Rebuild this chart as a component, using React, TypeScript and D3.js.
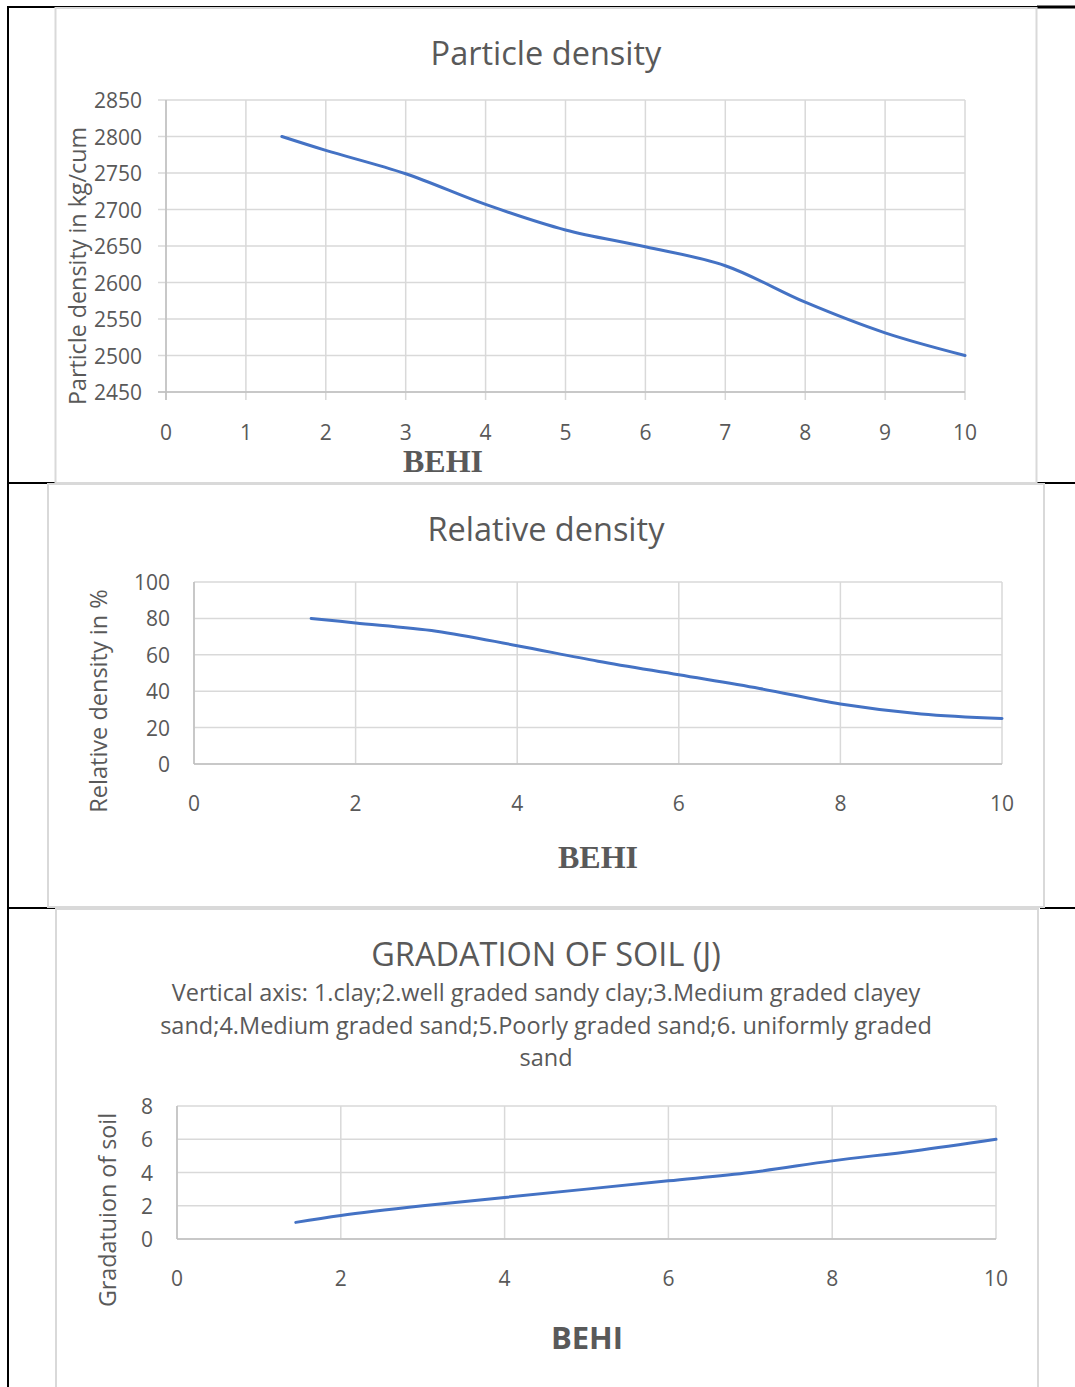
import React from "react";
import * as d3 from "d3";

const behi = [1.45, 2, 3, 4, 5, 6, 7, 8, 9, 10];
const particleDensity = [2800, 2781, 2749, 2707, 2672, 2649, 2623, 2573, 2531, 2500];
const relativeDensity = [80, 77.5, 73, 65, 56.5, 49, 41.5, 33, 27.5, 25];
const gradation = [1, 1.42, 2, 2.5, 3, 3.5, 4, 4.7, 5.3, 6];

const xTicks1 = [0, 1, 2, 3, 4, 5, 6, 7, 8, 9, 10];
const yTicks1 = [2450, 2500, 2550, 2600, 2650, 2700, 2750, 2800, 2850];
const xTicks2 = [0, 2, 4, 6, 8, 10];
const yTicks2 = [0, 20, 40, 60, 80, 100];
const xTicks3 = [0, 2, 4, 6, 8, 10];
const yTicks3 = [0, 2, 4, 6, 8];

const subtitleLines = [
  "Vertical axis: 1.clay;2.well graded sandy clay;3.Medium graded clayey",
  "sand;4.Medium graded sand;5.Poorly graded sand;6. uniformly graded",
  "sand",
];

const FONT = "'Open Sans', Lato, sans-serif";
const SERIF = "'Liberation Serif', 'Times New Roman', serif";
const TXT = "#595959";
const GRID = "#d9d9d9";
const LINE = "#4472C4";

type ChartProps = {
  x0: number; x1: number; y0: number; y1: number;
  xDomain: [number, number]; yDomain: [number, number];
  xTicks: number[]; yTicks: number[]; ys: number[];
  yLabelX: number; xLabelY: number; ext: number;
};

function Chart(p: ChartProps) {
  const x = d3.scaleLinear().domain(p.xDomain).range([p.x0, p.x1]);
  const y = d3.scaleLinear().domain(p.yDomain).range([p.y1, p.y0]);
  const line = d3
    .line<number>()
    .x((_, i) => x(behi[i]))
    .y((d) => y(d))
    .curve(d3.curveCatmullRom.alpha(0.5));
  return (
    <g>
      {p.yTicks.map((t) => (
        <line key={"h" + t} x1={p.x0 - p.ext} x2={p.x1} y1={y(t)} y2={y(t)} stroke={GRID} strokeWidth={1.5} />
      ))}
      {p.xTicks.map((t) => (
        <line key={"v" + t} x1={x(t)} x2={x(t)} y1={p.y0} y2={p.y1 + p.ext} stroke={GRID} strokeWidth={1.5} />
      ))}
      <line x1={p.x0} x2={p.x0} y1={p.y0} y2={p.y1 + p.ext} stroke="#bfbfbf" strokeWidth={1.5} />
      <line x1={p.x0 - p.ext} x2={p.x1} y1={p.y1} y2={p.y1} stroke="#bfbfbf" strokeWidth={1.5} />
      <path d={line(p.ys) || ""} fill="none" stroke={LINE} strokeWidth={3} strokeLinecap="round" />
      {p.yTicks.map((t) => (
        <text key={"yl" + t} x={p.yLabelX} y={y(t)} textAnchor="end" dominantBaseline="central" fontSize={21} fill={TXT} fontFamily={FONT}>
          {t}
        </text>
      ))}
      {p.xTicks.map((t) => (
        <text key={"xl" + t} x={x(t)} y={p.xLabelY} textAnchor="middle" dominantBaseline="central" fontSize={21} fill={TXT} fontFamily={FONT}>
          {t}
        </text>
      ))}
    </g>
  );
}

export default function App() {
  return (
    <svg width={1075} height={1387} style={{ position: "absolute", left: 0, top: 0, background: "#fff" }}>
      <rect x={0} y={0} width={1075} height={1387} fill="#fff" />
      {/* black page lines */}
      <line x1={8} x2={1075} y1={7} y2={7} stroke="#000" strokeWidth={2} />
      <line x1={8} x2={8} y1={6} y2={1387} stroke="#000" strokeWidth={2} />
      <line x1={8} x2={55} y1={483} y2={483} stroke="#000" strokeWidth={2} />
      <line x1={1037} x2={1075} y1={483} y2={483} stroke="#000" strokeWidth={2} />
      <line x1={8} x2={55} y1={908} y2={908} stroke="#000" strokeWidth={2} />
      <line x1={1040} x2={1075} y1={908} y2={908} stroke="#000" strokeWidth={2} />
      <line x1={1037} x2={1075} y1={7} y2={7} stroke="#000" strokeWidth={3} />

      {/* chart frames */}
      <rect x={55.5} y={8} width={981} height={475} fill="#fff" stroke={GRID} strokeWidth={2} />
      <rect x={48} y={484} width={996} height={423} fill="#fff" stroke={GRID} strokeWidth={2} />
      <rect x={56} y={909} width={982} height={490} fill="#fff" stroke={GRID} strokeWidth={2} />

      {/* Chart 1 */}
      <text x={546} y={52} textAnchor="middle" dominantBaseline="central" fontSize={32.5} fill={TXT} fontFamily={FONT}>
        Particle density
      </text>
      <Chart x0={166} x1={965} y0={100} y1={392} xDomain={[0, 10]} yDomain={[2450, 2850]}
        xTicks={xTicks1} yTicks={yTicks1} ys={particleDensity} yLabelX={142} xLabelY={432} ext={8} />
      <text transform="translate(77,266) rotate(-90)" textAnchor="middle" dominantBaseline="central" fontSize={23.3} fill={TXT} fontFamily={FONT}>
        Particle density in kg/cum
      </text>
      <text x={443} y={461} textAnchor="middle" dominantBaseline="central" fontSize={32} fontWeight="bold" fill={TXT} fontFamily={SERIF}>
        BEHI
      </text>

      {/* Chart 2 */}
      <text x={546} y={528} textAnchor="middle" dominantBaseline="central" fontSize={32.5} fill={TXT} fontFamily={FONT}>
        Relative density
      </text>
      <Chart x0={194} x1={1002} y0={582} y1={764} xDomain={[0, 10]} yDomain={[0, 100]}
        xTicks={xTicks2} yTicks={yTicks2} ys={relativeDensity} yLabelX={170} xLabelY={803} ext={0} />
      <text transform="translate(98,701) rotate(-90)" textAnchor="middle" dominantBaseline="central" fontSize={23.5} fill={TXT} fontFamily={FONT}>
        Relative density in %
      </text>
      <text x={598} y={857} textAnchor="middle" dominantBaseline="central" fontSize={32} fontWeight="bold" fill={TXT} fontFamily={SERIF}>
        BEHI
      </text>

      {/* Chart 3 */}
      <text x={546} y={953} textAnchor="middle" dominantBaseline="central" fontSize={32.5} fill={TXT} fontFamily={FONT}>
        GRADATION OF SOIL (J)
      </text>
      {subtitleLines.map((s, i) => (
        <text key={i} x={546} y={992 + i * 32.5} textAnchor="middle" dominantBaseline="central" fontSize={23.5} fill={TXT} fontFamily={FONT}>
          {s}
        </text>
      ))}
      <Chart x0={177} x1={996} y0={1106} y1={1239} xDomain={[0, 10]} yDomain={[0, 8]}
        xTicks={xTicks3} yTicks={yTicks3} ys={gradation} yLabelX={153} xLabelY={1278} ext={0} />
      <text transform="translate(107,1210) rotate(-90)" textAnchor="middle" dominantBaseline="central" fontSize={23.3} fill={TXT} fontFamily={FONT}>
        Gradatuion of soil
      </text>
      <text x={587} y={1337} textAnchor="middle" dominantBaseline="central" fontSize={31} fontWeight="bold" fill={TXT} fontFamily={FONT}>
        BEHI
      </text>
    </svg>
  );
}
